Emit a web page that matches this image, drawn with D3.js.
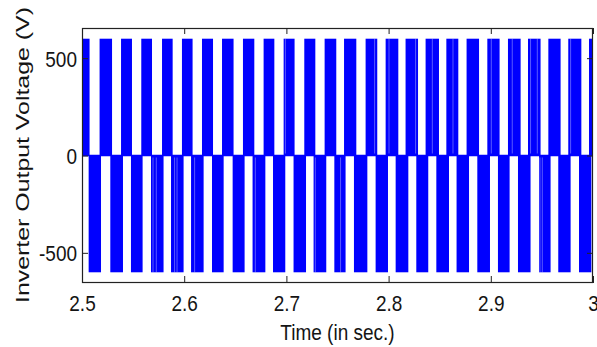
<!DOCTYPE html>
<html>
<head>
<meta charset="utf-8">
<script src="https://cdn.jsdelivr.net/npm/d3@7"></script>
<style>
  body { margin: 0; background: #fff; }
  svg { display: block; }
  text { font-family: "Liberation Sans", Arial, Helvetica, sans-serif; fill: #141414; }
</style>
</head>
<body>
<div id="chart"></div>
<script>
// half cycles of the inverter voltage (seconds)
const posStart = [2.5000, 2.5172, 2.5382, 2.5580, 2.5783, 2.5978, 2.6174, 2.6370, 2.6575, 2.6777, 2.6973, 2.7175, 2.7374,
                  2.7564, 2.7775, 2.7971, 2.8166, 2.8362, 2.8565, 2.8763, 2.8966, 2.9168, 2.9364, 2.9563, 2.9758, 2.9961]
const posEnd   = [2.5074, 2.5294, 2.5489, 2.5685, 2.5887, 2.6082, 2.6282, 2.6483, 2.6686, 2.6882, 2.7080, 2.7283, 2.7488,
                  2.7684, 2.7889, 2.8095, 2.8288, 2.8493, 2.8682, 2.8885, 2.9086, 2.9292, 2.9487, 2.9683, 2.9886, 3.0000]
const negStart = [2.5065, 2.5277, 2.5479, 2.5675, 2.5871, 2.6067, 2.6272, 2.6474, 2.6669, 2.6869, 2.7070, 2.7266, 2.7469,
                  2.7661, 2.7873, 2.8069, 2.8271, 2.8467, 2.8665, 2.8868, 2.9070, 2.9266, 2.9472, 2.9660, 2.9863]
const negEnd   = [2.5186, 2.5401, 2.5593, 2.5798, 2.5994, 2.6190, 2.6386, 2.6591, 2.6794, 2.6989, 2.7192, 2.7390, 2.7579,
                  2.7792, 2.7994, 2.8193, 2.8388, 2.8591, 2.8787, 2.8992, 2.9184, 2.9389, 2.9585, 2.9781, 2.9984]
// thin switching notches visible inside some blocks
const posNotches = [2.6990, 2.7863, 2.8004, 2.8264, 2.8428, 2.8630, 2.9005, 2.9210, 2.9389, 2.9455, 2.9781]
const negNotches = [2.5695, 2.5727, 2.5906, 2.5930, 2.6102, 2.6696, 2.7283, 2.7530, 2.9481, 2.9504]
const peakVolts = 600

const xTicks = [2.5, 2.6, 2.7, 2.8, 2.9, 3]
const yTicks = [-500, 0, 500]
const xDomain = [2.5, 3]
const yDomain = [-655, 655]

const width = 597, height = 347
const margin = { top: 28, right: 4, bottom: 64, left: 82 }

const svg = d3.select('#chart').append('svg')
    .attr('width', width).attr('height', height)

const x = d3.scaleLinear().domain(xDomain).range([margin.left, width - margin.right])
const y = d3.scaleLinear().domain(yDomain).range([height - margin.bottom, margin.top])

svg.append('clipPath').attr('id', 'plot-clip')
    .append('rect')
    .attr('x', margin.left).attr('y', margin.top)
    .attr('width', width - margin.left - margin.right)
    .attr('height', height - margin.top - margin.bottom)

const plot = svg.append('g').attr('clip-path', 'url(#plot-clip)')

const posBlocks = posStart.map((s, i) => ({ s: s, e: posEnd[i] }))
const negBlocks = negStart.map((s, i) => ({ s: s, e: negEnd[i] }))

plot.selectAll('.pos').data(posBlocks)
    .enter().append('rect')
    .attr('class', 'pos')
    .attr('x', d => x(d.s)).attr('width', d => x(d.e) - x(d.s))
    .attr('y', y(peakVolts)).attr('height', y(0) - y(peakVolts))
    .attr('fill', '#0000ff')

plot.selectAll('.neg').data(negBlocks)
    .enter().append('rect')
    .attr('class', 'neg')
    .attr('x', d => x(d.s)).attr('width', d => x(d.e) - x(d.s))
    .attr('y', y(0)).attr('height', y(-peakVolts) - y(0))
    .attr('fill', '#0000ff')

plot.selectAll('.pnotch').data(posNotches)
    .enter().append('line')
    .attr('x1', d => x(d)).attr('x2', d => x(d))
    .attr('y1', y(peakVolts)).attr('y2', y(0) - 2)
    .attr('stroke', '#fff').attr('stroke-opacity', 0.35).attr('stroke-width', 1)

plot.selectAll('.nnotch').data(negNotches)
    .enter().append('line')
    .attr('x1', d => x(d)).attr('x2', d => x(d))
    .attr('y1', y(0) + 2).attr('y2', y(-peakVolts))
    .attr('stroke', '#fff').attr('stroke-opacity', 0.35).attr('stroke-width', 1)

// signal resting at zero between pulses
plot.append('line')
    .attr('x1', x(xDomain[0])).attr('x2', x(xDomain[1]))
    .attr('y1', y(0)).attr('y2', y(0))
    .attr('stroke', '#0000ff').attr('stroke-width', 1.5)

const axisColor = '#222'
const fmt = d => String(d)

const gx = svg.append('g').attr('transform', `translate(0,${height - margin.bottom})`)
    .call(d3.axisBottom(x).tickValues(xTicks).tickFormat(fmt).tickSizeInner(-7).tickSizeOuter(0))
gx.selectAll('text').attr('y', null).attr('dy', null)
    .attr('transform', 'translate(0,28) scale(1,1.2)')
    .style('font-size', '19px')

svg.append('g').attr('transform', `translate(0,${margin.top})`)
    .call(d3.axisTop(x).tickValues(xTicks).tickFormat('').tickSizeInner(-6).tickSizeOuter(0))

const gy = svg.append('g').attr('transform', `translate(${margin.left},0)`)
    .call(d3.axisLeft(y).tickValues(yTicks).tickFormat(fmt).tickSizeInner(-6).tickSizeOuter(0))
gy.selectAll('text').attr('x', null).attr('dy', null)
    .attr('transform', 'translate(-5,8) scale(1,1.2)')
    .style('font-size', '19px')

svg.append('g').attr('transform', `translate(${width - margin.right},0)`)
    .call(d3.axisRight(y).tickValues(yTicks).tickFormat('').tickSizeInner(-6).tickSizeOuter(0))

svg.selectAll('.domain').remove()
svg.selectAll('.tick line').attr('stroke', axisColor)

svg.append('rect')
    .attr('x', margin.left + 0.5).attr('y', margin.top + 0.5)
    .attr('width', width - margin.left - margin.right - 1)
    .attr('height', height - margin.top - margin.bottom - 1)
    .attr('fill', 'none').attr('stroke', axisColor).attr('stroke-width', 1.2)

svg.append('text')
    .attr('transform', `translate(${(margin.left + width - margin.right) / 2},340) scale(1,1.2)`)
    .attr('text-anchor', 'middle')
    .style('font-size', '19px')
    .text('Time (in sec.)')

svg.append('text')
    .attr('transform', 'translate(28.5,155) rotate(-90) scale(1.31,1)')
    .attr('text-anchor', 'middle')
    .style('font-size', '19px')
    .text('Inverter Output Voltage (V)')
</script>
</body>
</html>
